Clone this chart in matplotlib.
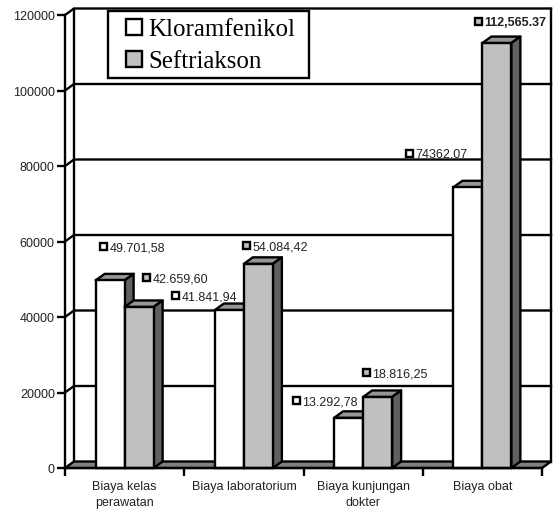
import matplotlib
matplotlib.use("Agg")
import matplotlib.pyplot as plt
from matplotlib.patches import Polygon, Rectangle

categories = ["Biaya kelas\nperawatan", "Biaya laboratorium", "Biaya kunjungan\ndokter", "Biaya obat"]
kloramfenikol = [49701.58, 41841.94, 13292.78, 74362.07]
seftriakson = [42659.60, 54084.42, 18816.25, 112565.37]
klor_labels = ["49.701,58", "41.841,94", "13.292,78", "74362.07"]
seft_labels = ["42.659,60", "54.084,42", "18.816,25", "112,565.37"]
yticks = [0, 20000, 40000, 60000, 80000, 100000, 120000]

W, H = 553, 510
LEFT, RIGHT, TOP, BOTTOM = 65, 542, 16, 469
LW = 1.7
FS = 9

fig = plt.figure(figsize=(W / 100, H / 100), dpi=100)
ax = fig.add_axes([LEFT / W, 1 - BOTTOM / H, (RIGHT - LEFT) / W, (BOTTOM - TOP) / H])
ax.set_xlim(0, 4)
ax.set_ylim(0, 120000)
ax.patch.set_visible(False)

# 3d depth, in data units
dx = 9 / ((RIGHT - LEFT) / 4)
dy = 6.5 / ((BOTTOM - TOP) / 120000)
bar_w = 29 / ((RIGHT - LEFT) / 4)


def poly(pts, color, z):
    ax.add_patch(Polygon(pts, closed=True, facecolor=color, edgecolor="black",
                         linewidth=LW, joinstyle="round", clip_on=False, zorder=z))


# walls
for v in yticks[1:]:
    ax.plot([0, dx, 4 + dx], [v, v + dy, v + dy], color="black", lw=LW, clip_on=False, zorder=1)
ax.plot([dx, dx], [dy, 120000 + dy], color="black", lw=LW, clip_on=False, zorder=1)
ax.plot([4 + dx, 4 + dx], [dy, 120000 + dy], color="black", lw=LW, clip_on=False, zorder=1)
poly([(0, 0), (4, 0), (4 + dx, dy), (dx, dy)], "#808080", 2)


def draw_bar(x, v, color, z):
    ax.bar(x, v, width=bar_w, align="edge", facecolor=color, edgecolor="black",
           linewidth=LW, clip_on=False, zorder=z + 0.2)
    poly([(x, v), (x + bar_w, v), (x + bar_w + dx, v + dy), (x + dx, v + dy)], "#969696", z)
    poly([(x + bar_w, 0), (x + bar_w + dx, dy), (x + bar_w + dx, v + dy), (x + bar_w, v)], "#606060", z)


for i in range(len(categories)):
    c = i + 0.5
    draw_bar(c - bar_w, kloramfenikol[i], "white", 3 + i)
    draw_bar(c, seftriakson[i], "#C0C0C0", 3.5 + i)

ax.spines["top"].set_visible(False)
ax.spines["right"].set_visible(False)
for s in ["left", "bottom"]:
    ax.spines[s].set_linewidth(LW)
    ax.spines[s].set_zorder(20)

ax.set_yticks(yticks)
ax.set_yticklabels([str(v) for v in yticks], fontfamily="Liberation Sans", fontsize=FS, color="#222222")
ax.tick_params(axis="y", length=5.8, width=LW, pad=1.5)
ax.set_xticks([0, 1, 2, 3, 4])
ax.set_xticklabels([])
ax.tick_params(axis="x", which="major", length=6, width=LW)
ax.set_xticks([0.5, 1.5, 2.5, 3.5], minor=True)
ax.set_xticklabels(categories, minor=True, fontfamily="Liberation Sans", fontsize=FS, linespacing=1.37,
                   color="#222222")
ax.tick_params(axis="x", which="minor", length=0, pad=9)

# data labels, pixel position of the little key square
klor_pos = [(103, 247), (175, 296), (296, 401), (409, 154)]
seft_pos = [(146, 278), (246, 246), (366, 373), (478, 22)]


def px(x, y):
    return x / W, 1 - y / H


def data_label(pos, text, color, bold=False):
    x, y = px(*pos)
    s = 7 / W, 7 / H
    fig.add_artist(Rectangle((x - s[0] / 2, y - s[1] / 2), s[0], s[1], transform=fig.transFigure,
                             facecolor=color, edgecolor="black", linewidth=LW, zorder=30))
    fig.text(x + 6.5 / W, y, text, family="Liberation Sans", fontsize=FS, va="center_baseline", ha="left",
             color="#222222", fontweight="bold" if bold else "normal", zorder=30)


for i in range(len(categories)):
    data_label(klor_pos[i], klor_labels[i], "white")
    data_label(seft_pos[i], seft_labels[i], "#C0C0C0", bold=(i == 3))

# legend box, drawn by hand like the original
x0, y0 = px(108, 79)
x1, y1 = px(309, 12)
fig.add_artist(Rectangle((x0, y0), x1 - x0, y1 - y0, transform=fig.transFigure, facecolor="white",
                         edgecolor="black", linewidth=LW, zorder=31))
for name, color, yc in [("Kloramfenikol", "white", 28), ("Seftriakson", "#C0C0C0", 60)]:
    kx, ky = px(126, yc + 8)
    fig.add_artist(Rectangle((kx, ky), 16 / W, 16 / H, transform=fig.transFigure, facecolor=color,
                             edgecolor="black", linewidth=LW, zorder=32))
    tx, ty = px(148, yc)
    fig.text(tx, ty, name, family="Liberation Serif", fontsize=17.9, va="center_baseline", ha="left", zorder=32)

fig.savefig("out.png", dpi=100, facecolor="white")
